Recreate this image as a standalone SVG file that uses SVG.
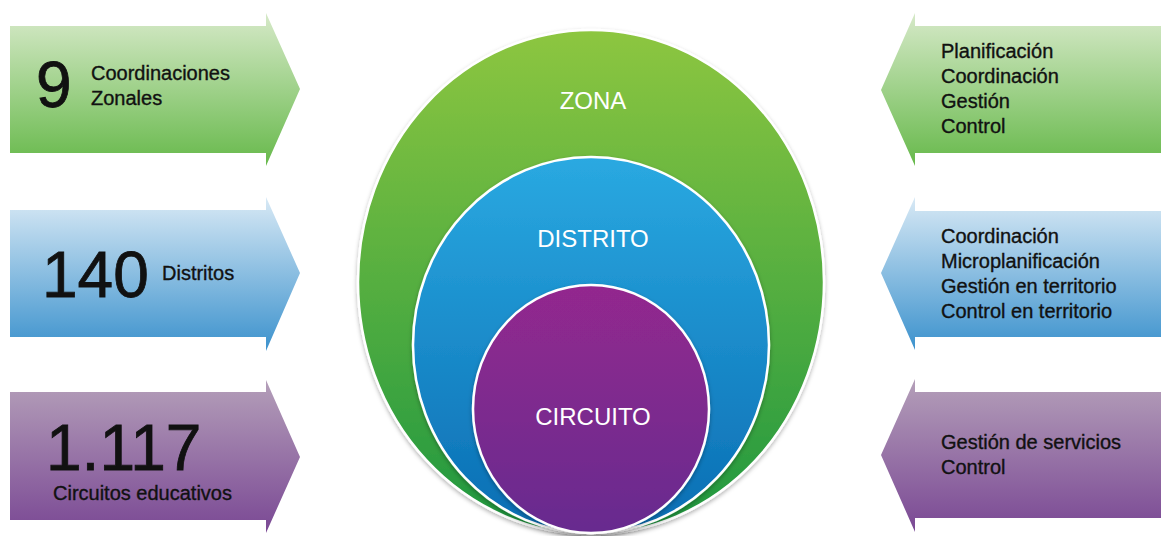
<svg xmlns="http://www.w3.org/2000/svg" width="1161" height="536" viewBox="0 0 1161 536">
<defs>
<linearGradient id="gArrow" x1="0" y1="0" x2="0" y2="1"><stop offset="0" stop-color="#d6e9c8"/><stop offset="1" stop-color="#67b94b"/></linearGradient>
<linearGradient id="bArrow" x1="0" y1="0" x2="0" y2="1"><stop offset="0" stop-color="#d8e9f5"/><stop offset="1" stop-color="#3c92cd"/></linearGradient>
<linearGradient id="pArrow" x1="0" y1="0" x2="0" y2="1"><stop offset="0" stop-color="#b49fb9"/><stop offset="1" stop-color="#7a4894"/></linearGradient>
<linearGradient id="gCirc" x1="0" y1="0" x2="0" y2="1"><stop offset="0" stop-color="#8dc641"/><stop offset="1" stop-color="#1e9740"/></linearGradient>
<linearGradient id="bCirc" x1="0" y1="0" x2="0" y2="1"><stop offset="0" stop-color="#2aa9e1"/><stop offset="1" stop-color="#0a6db3"/></linearGradient>
<linearGradient id="pCirc" x1="0" y1="0" x2="0" y2="1"><stop offset="0" stop-color="#93288e"/><stop offset="1" stop-color="#672c8f"/></linearGradient>
<filter id="sh" x="-10%" y="-10%" width="120%" height="120%"><feDropShadow dx="0" dy="2" stdDeviation="2" flood-color="#000" flood-opacity="0.3"/></filter>
</defs>
<style>
.t{font-family:"Liberation Sans",Arial,Helvetica,sans-serif;fill:#111;stroke:#111;stroke-width:0.35}
.big{font-size:64px;stroke-width:0.8}
.s{font-size:20px}
.w{font-family:"Liberation Sans",Arial,Helvetica,sans-serif;fill:#fff;font-size:24px;text-anchor:middle}
.ell{stroke:#fff;stroke-width:2.5}
</style>
<rect width="1161" height="536" fill="#fff"/>
<g id="left-zona">
<polygon points="10,26 266,26 266,13 300,89 266,166 266,153 10,153" fill="url(#gArrow)"/>
<text class="t big" x="36" y="107">9</text>
<text class="t s" x="91" y="80">Coordinaciones</text>
<text class="t s" x="91" y="105">Zonales</text>
</g>
<g id="left-distrito">
<polygon points="10,210 266,210 266,197 300,273 266,351 266,337 10,337" fill="url(#bArrow)"/>
<text class="t big" x="42" y="297">140</text>
<text class="t s" x="162" y="280">Distritos</text>
</g>
<g id="left-circuito">
<polygon points="10,392 266,392 266,380 300,457 266,533 266,520 10,520" fill="url(#pArrow)"/>
<text class="t big" x="46" y="470">1.117</text>
<text class="t s" x="53" y="500">Circuitos educativos</text>
</g>
<g id="right-zona">
<polygon points="1161,26 915,26 915,13 881,90 915,166 915,153 1161,153" fill="url(#gArrow)"/>
<text class="t s" x="941" y="58">Planificación</text>
<text class="t s" x="941" y="83">Coordinación</text>
<text class="t s" x="941" y="108">Gestión</text>
<text class="t s" x="941" y="133">Control</text>
</g>
<g id="right-distrito">
<polygon points="1161,211 915,211 915,197 881,273 915,350 915,337 1161,337" fill="url(#bArrow)"/>
<text class="t s" x="941" y="243">Coordinación</text>
<text class="t s" x="941" y="268">Microplanificación</text>
<text class="t s" x="941" y="293">Gestión en territorio</text>
<text class="t s" x="941" y="318">Control en territorio</text>
</g>
<g id="right-circuito">
<polygon points="1161,392 915,392 915,379 881,455 915,532 915,518 1161,518" fill="url(#pArrow)"/>
<text class="t s" x="941" y="449">Gestión de servicios</text>
<text class="t s" x="941" y="474">Control</text>
</g>
<g id="zona">
<ellipse class="ell" cx="591" cy="282" rx="233" ry="252" fill="url(#gCirc)" filter="url(#sh)"/>
<text class="w" x="593" y="109">ZONA</text>
</g>
<g id="distrito">
<ellipse class="ell" cx="591" cy="345" rx="178" ry="188" fill="url(#bCirc)" filter="url(#sh)"/>
<text class="w" x="593" y="247">DISTRITO</text>
</g>
<g id="circuito">
<ellipse class="ell" cx="591" cy="409" rx="118" ry="124" fill="url(#pCirc)" filter="url(#sh)"/>
<text class="w" x="593" y="425">CIRCUITO</text>
</g>
<g id="connectors"/>
</svg>
